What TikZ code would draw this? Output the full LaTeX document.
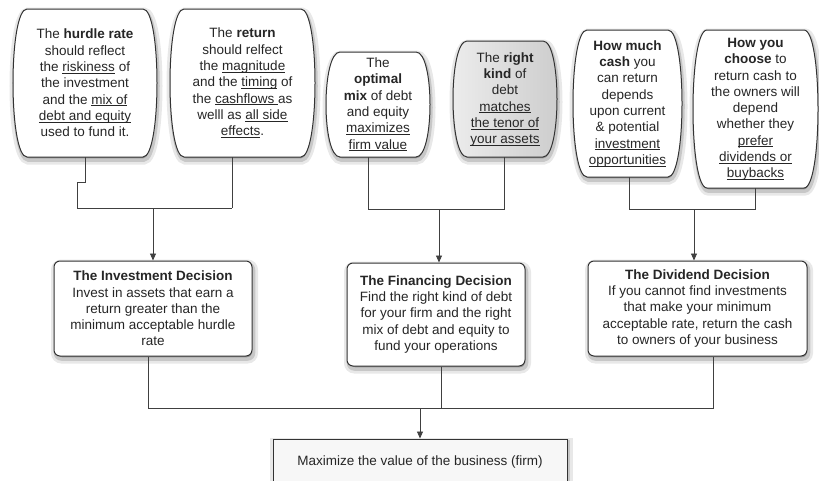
\documentclass[tikz,border=0pt]{standalone}
\usepackage{fontspec}
\setmainfont{Liberation Sans}
\usetikzlibrary{calc,arrows.meta}
\newcommand{\uln}[1]{\underline{\smash{#1}}}
\begin{document}
\begin{tikzpicture}[x=1pt,y=-1pt,
  every node/.style={font=\fontsize{13.5}{16.3}\selectfont, text=black!85, align=center},
  topbox/.style={inner sep=0pt},
  shadowstyle/.style={preaction={draw=black!9, line width=9pt}, draw=black!22, line width=3.5pt, fill=black!42},
  barrelstyle/.style={draw=black!80, line width=1pt, fill=white},
  decision/.style={draw=black!80, line width=1pt, rounded corners=6pt, fill=white, inner sep=0pt},
  goalbox/.style={draw=black!80, line width=1pt, fill=gray!6, inner sep=0pt},
  conn/.style={draw=black!75, line width=0.9pt},
  arr/.style={conn, -{Triangle[width=6pt,length=7pt]}}
]
\useasboundingbox (0,0) rectangle (819,480);

% barrel-shaped top boxes with their shadows
\path[shadowstyle] (28,12) -- (144,12) .. controls (162.667,12) and (162.667,160) .. (144,160) -- (28,160) .. controls (9.333,160) and (9.333,12) .. cycle;
\path[barrelstyle] (27,9) -- (143,9) .. controls (161.667,9) and (161.667,157) .. (143,157) -- (27,157) .. controls (8.333,157) and (8.333,9) .. cycle;

\path[shadowstyle] (185,12) -- (302,12) .. controls (320.667,12) and (320.667,160) .. (302,160) -- (185,160) .. controls (166.333,160) and (166.333,12) .. cycle;
\path[barrelstyle] (184,9) -- (301,9) .. controls (319.667,9) and (319.667,157) .. (301,157) -- (184,157) .. controls (165.333,157) and (165.333,9) .. cycle;

\path[shadowstyle] (341,55) -- (417,55) .. controls (435.667,55) and (435.667,160) .. (417,160) -- (341,160) .. controls (322.333,160) and (322.333,55) .. cycle;
\path[barrelstyle] (340,52) -- (416,52) .. controls (434.667,52) and (434.667,157) .. (416,157) -- (340,157) .. controls (321.333,157) and (321.333,52) .. cycle;

\path[shadowstyle] (468,44) -- (544,44) .. controls (562.667,44) and (562.667,160) .. (544,160) -- (468,160) .. controls (449.333,160) and (449.333,44) .. cycle;
\path[barrelstyle, left color=gray!14, middle color=white, right color=gray!40] (467,41) -- (543,41) .. controls (561.667,41) and (561.667,157) .. (543,157) -- (467,157) .. controls (448.333,157) and (448.333,41) .. cycle;

\path[shadowstyle] (588,33) -- (669,33) .. controls (687.667,33) and (687.667,180) .. (669,180) -- (588,180) .. controls (569.333,180) and (569.333,33) .. cycle;
\path[barrelstyle] (587,30) -- (668,30) .. controls (686.667,30) and (686.667,177) .. (668,177) -- (587,177) .. controls (568.333,177) and (568.333,30) .. cycle;

\path[shadowstyle] (708,33) -- (805,33) .. controls (823.667,33) and (823.667,191) .. (805,191) -- (708,191) .. controls (689.333,191) and (689.333,33) .. cycle;
\path[barrelstyle] (707,30) -- (804,30) .. controls (822.667,30) and (822.667,188) .. (804,188) -- (707,188) .. controls (688.333,188) and (688.333,30) .. cycle;

% top boxes (text)
\node[topbox, minimum width=144pt, minimum height=148pt] (b1) at (85,83)
  {The \textbf{hurdle rate}\\should reflect\\the \uln{riskiness} of\\the investment\\and the \uln{mix of}\\\uln{debt and equity}\\used to fund it.};
\node[topbox, minimum width=145pt, minimum height=148pt] (b2) at (242.5,83)
  {The \textbf{return}\\should relfect\\the \uln{magnitude}\\and the \uln{timing} of\\the \uln{cashflows }as\\welll as \uln{all side}\\\uln{effects}.};
\node[topbox, minimum width=104pt, minimum height=105pt] (b3) at (378,104.5)
  {The\\\textbf{optimal}\\\textbf{mix} of debt\\and equity\\\uln{maximizes}\\\uln{firm value}};
\node[topbox, minimum width=104pt, minimum height=116pt] (b4) at (505,99)
  {The \textbf{right}\\\textbf{kind} of\\debt\\\uln{matches}\\\uln{the tenor of}\\\uln{your assets}};
\node[topbox, minimum width=109pt, minimum height=147pt] (b5) at (627.5,103.5)
  {\textbf{How much}\\\textbf{cash} you\\can return\\depends\\upon current\\\& potential\\\uln{investment}\\\uln{opportunities}};
\node[topbox, minimum width=125pt, minimum height=158pt] (b6) at (755.5,109)
  {\textbf{How you}\\\textbf{choose} to\\return cash to\\the owners will\\depend\\whether they\\\uln{prefer}\\\uln{dividends or}\\\uln{buybacks}};

% shadows of the lower boxes
\path[shadowstyle, rounded corners=6pt] (55.5,264) rectangle (253.5,359);
\path[shadowstyle, rounded corners=6pt] (348.5,266) rectangle (526.5,369);
\path[shadowstyle, rounded corners=6pt] (589.5,264) rectangle (808.5,359);
\path[shadowstyle] (274.5,442) rectangle (568.5,490);

% decision boxes
\node[decision, minimum width=198pt, minimum height=95pt] (inv) at (153,308.5)
  {\textbf{The Investment Decision}\\Invest in assets that earn a\\return greater than the\\minimum acceptable hurdle\\rate};
\node[decision, minimum width=178pt, minimum height=103pt] (fin) at (436,314.5)
  {\textbf{The Financing Decision}\\Find the right kind of debt\\for your firm and the right\\mix of debt and equity to\\fund your operations};
\node[decision, minimum width=219pt, minimum height=95pt] (div) at (697.5,308.5)
  {\textbf{The Dividend Decision}\\If you cannot find investments\\that make your minimum\\acceptable rate, return the cash\\to owners of your business};

% goal box
\node[goalbox, minimum width=294pt, minimum height=46pt] (goal) at (420,462)
  {Maximize the value of the business (firm)};

% junction coordinates
\coordinate (h1l) at (77,208);
\coordinate (h1r) at (232,208);
\coordinate (ja) at (153,208);
\coordinate (h2l) at (368,209);
\coordinate (h2r) at (504,209);
\coordinate (jb) at (439,209);
\coordinate (h3l) at (629,209);
\coordinate (h3r) at (755,209);
\coordinate (jc) at (694,209);
\coordinate (bl) at (148,408);
\coordinate (bm) at (441,408);
\coordinate (br) at (713,408);
\coordinate (bj) at (420,408);

% top connectors
\draw[conn] (b1.south) -- ++(0,25) -| (h1l) -- (h1r);
\draw[conn] (h1r |- b2.south) -- (h1r);
\draw[arr] (ja) -- (ja |- inv.north);

\draw[conn] (h2l |- b3.south) -- (h2l) -- (h2r) -- (h2r |- b4.south);
\draw[arr] (jb) -- (jb |- fin.north);

\draw[conn] (h3l |- b5.south) -- (h3l) -- (h3r) -- (h3r |- b6.south);
\draw[arr] (jc) -- (jc |- div.north);

% bottom connectors
\draw[conn] (bl |- inv.south) -- (bl) -- (br) -- (br |- div.south);
\draw[conn] (bm |- fin.south) -- (bm);
\draw[arr] (bj) -- (goal.north);
\end{tikzpicture}
\end{document}
